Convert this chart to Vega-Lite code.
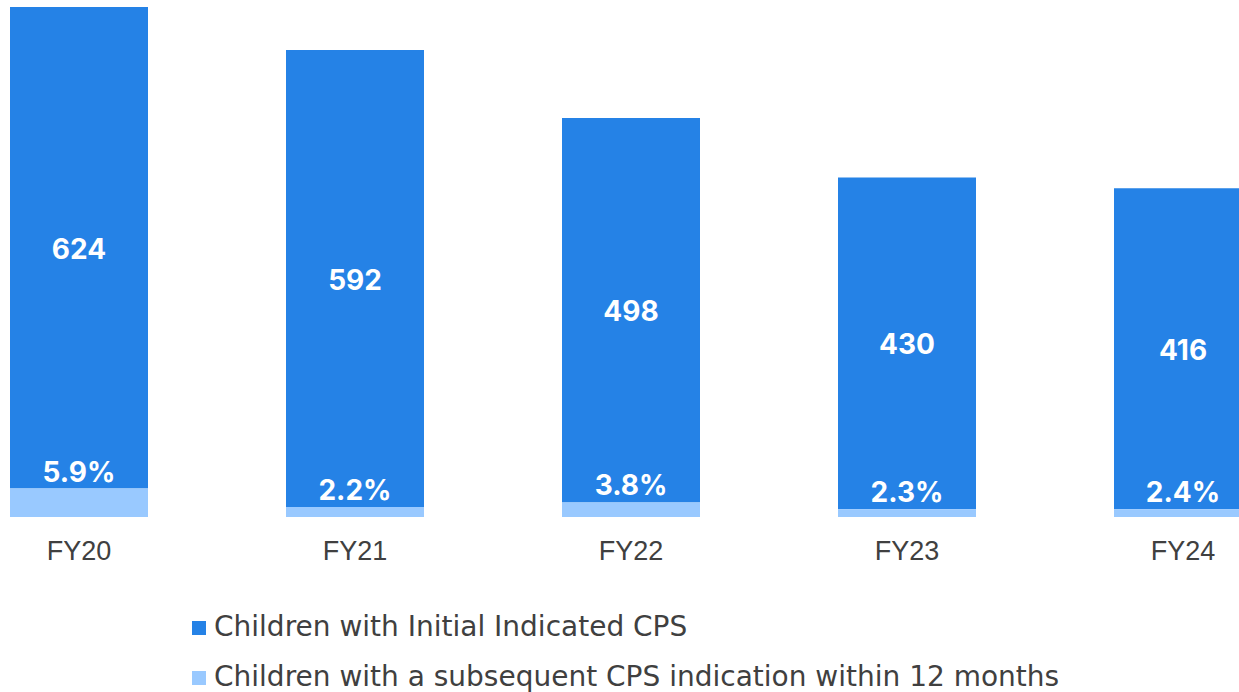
{
  "$schema": "https://vega.github.io/schema/vega-lite/v6.json",
  "width": 1229,
  "height": 510,
  "padding": {"left": 10, "top": 7, "right": 0, "bottom": 0},
  "autosize": {"type": "pad"},
  "config": {"view": {"stroke": null}, "font": "Inter"},
  "data": {
    "values": [
      {"year": "FY20", "series": "Children with Initial Indicated CPS", "value": 624, "label": "624"},
      {"year": "FY20", "series": "Children with a subsequent CPS indication within 12 months", "value": 36.8, "label": "5.9%"},
      {"year": "FY21", "series": "Children with Initial Indicated CPS", "value": 592, "label": "592"},
      {"year": "FY21", "series": "Children with a subsequent CPS indication within 12 months", "value": 13.0, "label": "2.2%"},
      {"year": "FY22", "series": "Children with Initial Indicated CPS", "value": 498, "label": "498"},
      {"year": "FY22", "series": "Children with a subsequent CPS indication within 12 months", "value": 18.9, "label": "3.8%"},
      {"year": "FY23", "series": "Children with Initial Indicated CPS", "value": 430, "label": "430"},
      {"year": "FY23", "series": "Children with a subsequent CPS indication within 12 months", "value": 9.9, "label": "2.3%"},
      {"year": "FY24", "series": "Children with Initial Indicated CPS", "value": 416, "label": "416"},
      {"year": "FY24", "series": "Children with a subsequent CPS indication within 12 months", "value": 10.0, "label": "2.4%"}
    ]
  },
  "transform": [
    {"stack": "value", "groupby": ["year"], "sort": [{"field": "series", "order": "descending"}], "as": ["y0", "y1"]},
    {"calculate": "(datum.y0 + datum.y1) / 2", "as": "ymid"}
  ],
  "encoding": {
    "x": {
      "field": "year", "type": "nominal", "title": null,
      "scale": {"range": [0, 1242], "paddingInner": 0.5, "paddingOuter": 0},
      "axis": {"domain": false, "ticks": false, "labelAngle": 0, "labelFont": "Liberation Sans", "labelFontSize": 27, "labelColor": "#404040", "labelPadding": 21}
    }
  },
  "layer": [
    {
      "mark": {"type": "bar"},
      "encoding": {
        "y": {"field": "y0", "type": "quantitative", "scale": {"domain": [0, 660.8], "nice": false}, "axis": null},
        "y2": {"field": "y1"},
        "color": {
          "field": "series", "type": "nominal",
          "scale": {"domain": ["Children with Initial Indicated CPS", "Children with a subsequent CPS indication within 12 months"], "range": ["#2582E6", "#99C9FF"]},
          "legend": {"orient": "none", "legendX": 175, "legendY": 607, "title": null, "symbolType": "square", "symbolSize": 196, "symbolStrokeWidth": 0, "labelFontSize": 28, "labelColor": "#404040", "labelFont": "DejaVu Sans", "rowPadding": 22, "labelOffset": 1, "labelLimit": 1000}
        }
      }
    },
    {
      "transform": [{"filter": "datum.series === 'Children with Initial Indicated CPS'"}],
      "mark": {"type": "text", "fontWeight": "bold", "fontSize": 28, "color": "white", "baseline": "middle", "dy": 3, "font": "Inter"},
      "encoding": {
        "y": {"field": "ymid", "type": "quantitative"},
        "text": {"field": "label"}
      }
    },
    {
      "transform": [{"filter": "datum.series !== 'Children with Initial Indicated CPS'"}],
      "mark": {"type": "text", "fontWeight": "bold", "fontSize": 28, "color": "white", "baseline": "alphabetic", "dy": -7, "font": "Inter"},
      "encoding": {
        "y": {"field": "y1", "type": "quantitative"},
        "text": {"field": "label"}
      }
    }
  ]
}
